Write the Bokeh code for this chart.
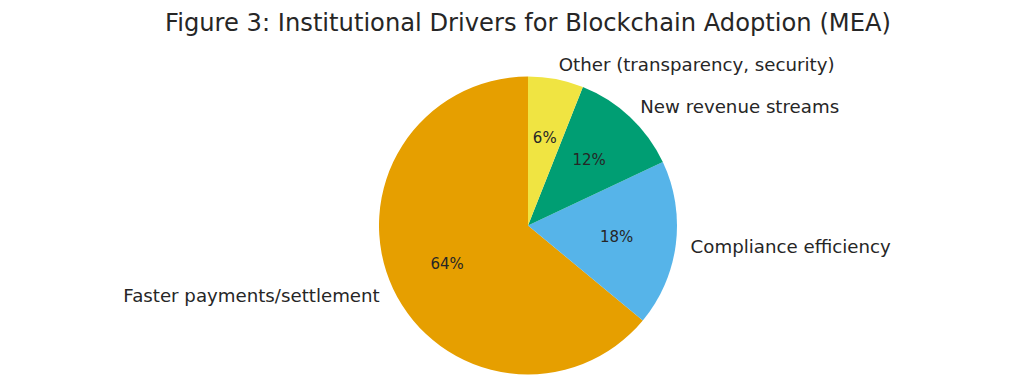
import math
from bokeh.plotting import figure
from bokeh.models import ColumnDataSource, Range1d
from bokeh.core.properties import value
from bokeh.embed import file_html
from bokeh.resources import INLINE

# Data (counterclockwise from 12 o'clock)
categories = ["Faster payments/settlement", "Compliance efficiency",
              "New revenue streams", "Other (transparency, security)"]
shares = [64, 18, 12, 6]
colors = ["#E69F00", "#56B4E9", "#009E73", "#F0E442"]
title_text = "Figure 3: Institutional Drivers for Blockchain Adoption (MEA)"

W, H = 998, 376
cx, cy, r = 527.5, 151.0, 149.0
FONT = "DejaVu Sans"
TXT = "#262626"

total = sum(shares)
starts, ends, mids = [], [], []
a = math.pi / 2
for s in shares:
    span = 2 * math.pi * s / total
    starts.append(a)
    ends.append(a + span)
    mids.append(a + span / 2)
    a += span

src = ColumnDataSource(dict(start=starts, end=ends, color=colors))

p = figure(width=W, height=H, output_backend="svg", toolbar_location=None,
           x_range=Range1d(0, W), y_range=Range1d(0, H), min_border=0,
           background_fill_color="white", border_fill_color="white")
p.axis.visible = False
p.grid.visible = False
p.outline_line_color = None

p.wedge(x=cx, y=cy, radius=r, start_angle="start", end_angle="end",
        fill_color="color", line_color=None, direction="anticlock", source=src)

# Outer labels
lx = [cx + 1.1 * r * math.cos(m) for m in mids]
ly = [cy + 1.1 * r * math.sin(m) for m in mids]
align = ["left" if math.cos(m) >= 0 else "right" for m in mids]
lsrc = ColumnDataSource(dict(x=lx, y=ly, t=categories, a=align))
p.text(x="x", y="y", text="t", text_align="a", text_baseline="middle",
       text_font=value(FONT), text_font_size="18.2px", text_color=TXT, source=lsrc)

# Percent labels
px = [cx + 0.6 * r * math.cos(m) for m in mids]
py = [cy + 0.6 * r * math.sin(m) for m in mids]
pt = [f"{s/total*100:.0f}%" for s in shares]
psrc = ColumnDataSource(dict(x=px, y=py, t=pt))
p.text(x="x", y="y", text="t", text_align="center", text_baseline="middle",
       text_font=value(FONT), text_font_size="15px", text_color=TXT, source=psrc)

# Title
p.text(x=[cx], y=[H - 22], text=[title_text], text_align="center",
       text_baseline="middle", text_font=value(FONT), text_font_size="24.2px",
       text_color=TXT)

open("out.html", "w").write(file_html(p, INLINE))
